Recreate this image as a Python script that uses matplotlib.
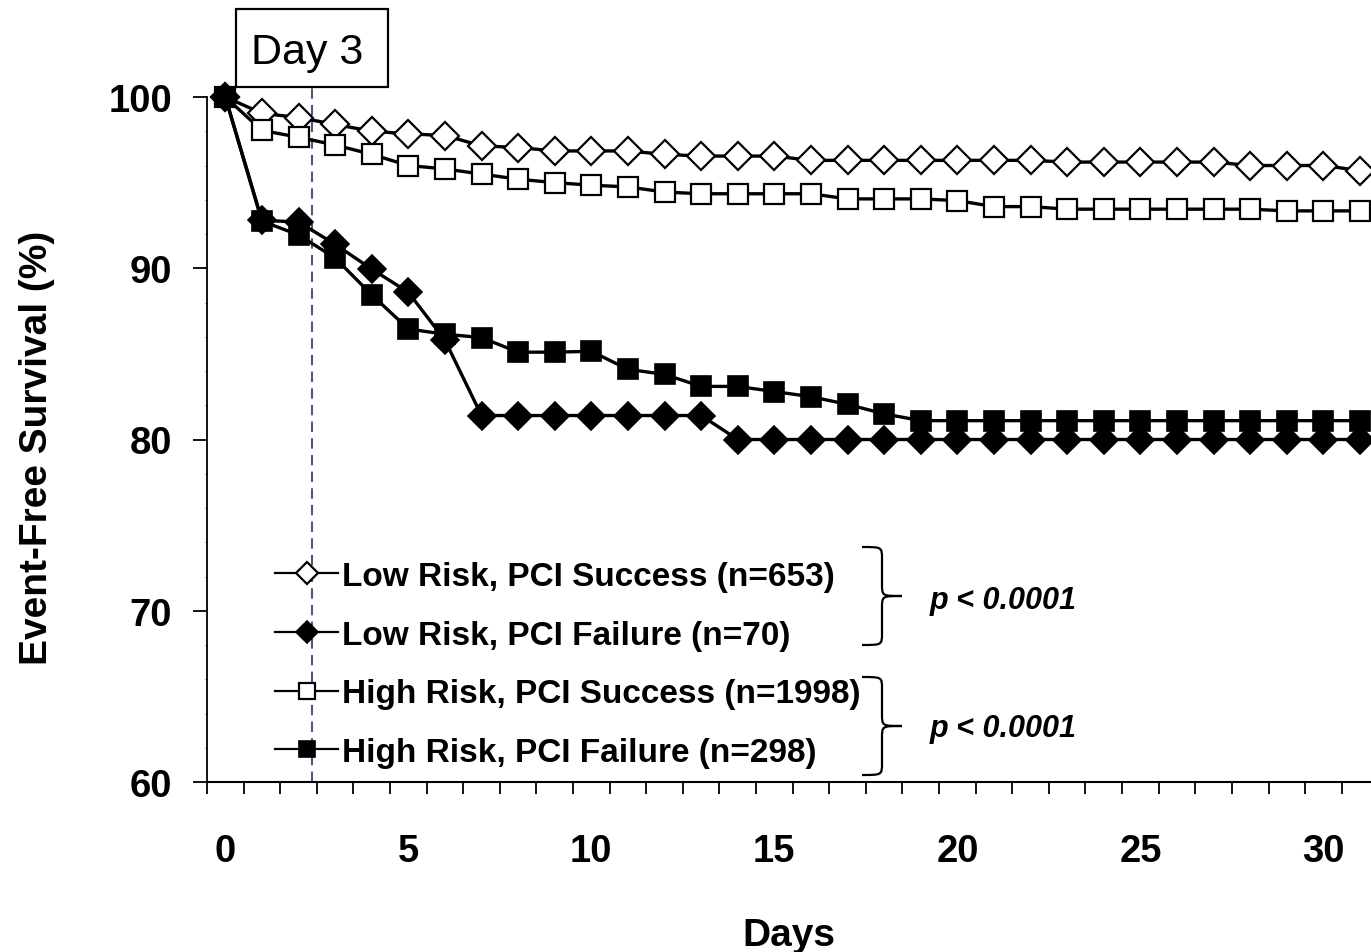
import matplotlib
matplotlib.use("Agg")
import matplotlib.pyplot as plt
from matplotlib.path import Path
from matplotlib.patches import PathPatch, Rectangle
from matplotlib.lines import Line2D
from matplotlib.ticker import FixedLocator, NullFormatter
import matplotlib.transforms as mtransforms
import numpy as np

plt.rcParams["font.family"] = ["Liberation Sans", "DejaVu Sans"]

# ---- data -------------------------------------------------------------
days = list(range(32))

low_success = [100, 99.05, 98.8, 98.4, 98.0, 97.85, 97.75, 97.15, 97.05, 96.85,
               96.85, 96.85, 96.65, 96.55, 96.55, 96.55, 96.3, 96.3, 96.3, 96.3,
               96.3, 96.3, 96.3, 96.2, 96.2, 96.2, 96.2, 96.2, 96.0, 96.0,
               96.0, 95.7]
low_failure = [100, 92.8, 92.7, 91.4, 89.95, 88.6, 85.8, 81.4, 81.4, 81.4,
               81.4, 81.4, 81.4, 81.4, 80.0, 80.0, 80.0, 80.0, 80.0, 80.0,
               80.0, 80.0, 80.0, 80.0, 80.0, 80.0, 80.0, 80.0, 80.0, 80.0,
               80.0, 80.0]
high_success = [100, 98.05, 97.65, 97.2, 96.65, 96.0, 95.8, 95.5, 95.2, 95.0,
                94.85, 94.75, 94.45, 94.35, 94.35, 94.35, 94.35, 94.05, 94.05, 94.05,
                93.95, 93.6, 93.6, 93.45, 93.45, 93.45, 93.45, 93.45, 93.45, 93.35,
                93.35, 93.35]
high_failure = [100, 92.75, 91.95, 90.6, 88.45, 86.45, 86.15, 85.95, 85.1, 85.1,
                85.15, 84.1, 83.8, 83.1, 83.1, 82.8, 82.5, 82.05, 81.5, 81.1,
                81.1, 81.1, 81.1, 81.1, 81.1, 81.1, 81.1, 81.1, 81.1, 81.1,
                81.1, 81.1]

series_labels = ["Low Risk, PCI Success (n=653)",
                 "Low Risk, PCI Failure (n=70)",
                 "High Risk, PCI Success (n=1998)",
                 "High Risk, PCI Failure (n=298)"]
p_labels = ["p < 0.0001", "p < 0.0001"]
x_tick_values = [0, 5, 10, 15, 20, 25, 30]
y_tick_values = [60, 70, 80, 90, 100]
day_marker = 2.36
day_marker_label = "Day 3"

# ---- figure -----------------------------------------------------------
W, H = 1371, 953
fig = plt.figure(figsize=(W / 100, H / 100), dpi=100)
ax = fig.add_axes([207 / W, (H - 783) / H, (W - 207) / W, 773 / H])
ax.set_xlim(-0.5, 31.3)
ax.set_ylim(60, 60 + 773 / 17.125)

styles = [
    dict(marker="D", ms=14, mfc="white", mec="black", mew=1.6),
    dict(marker="D", ms=14, mfc="black", mec="black", mew=1.2),
    dict(marker="s", ms=14.5, mfc="white", mec="black", mew=1.6),
    dict(marker="s", ms=14.5, mfc="black", mec="black", mew=1.2),
]
handles = []
for vals, st in zip([low_success, low_failure, high_success, high_failure],
                    styles):
    ax.plot(days, vals, color="black", lw=2.4, zorder=3, clip_on=True, **st)
    handles.append(Line2D([], [], color="black", lw=1.6,
                          **{**st, "ms": st["ms"] * 0.8}))

# vertical marker line for day 3
ax.axvline(day_marker, ymin=0, ymax=(783 - 88) / 773, color="#4a5a78",
           lw=1.5, dashes=(5, 3), zorder=1)

# spines
for s in ("top", "right"):
    ax.spines[s].set_visible(False)
ax.spines["left"].set_bounds(60, 100)
ax.spines["left"].set_linewidth(1.3)
ax.spines["bottom"].set_linewidth(1.5)

# ticks
ax.xaxis.set_major_locator(FixedLocator(x_tick_values))
ax.xaxis.set_minor_locator(FixedLocator(np.arange(-0.5, 31, 1.0)))
ax.xaxis.set_minor_formatter(NullFormatter())
ax.tick_params(axis="x", which="major", length=0, pad=37,
               labelsize=27.5)
ax.tick_params(axis="x", which="minor", length=8.5, width=1.3, direction="out")
ax.yaxis.set_major_locator(FixedLocator(y_tick_values))
ax.yaxis.set_minor_locator(FixedLocator(np.arange(62, 100, 2)))
ax.tick_params(axis="y", which="major", length=10, width=1.3, pad=15,
               labelsize=27.5)
ax.tick_params(axis="y", which="minor", length=1.5, width=0.8, color="#777777")
for lbl in ax.get_xticklabels() + ax.get_yticklabels():
    lbl.set_fontweight("bold")

ax.set_xlabel("Days", fontsize=28, fontweight="bold", labelpad=34)
fig.text(37 / W, 1 - 448 / H, "Event-Free Survival (%)", rotation=90,
         ha="center", va="center", fontsize=28, fontweight="bold")

# legend
leg = ax.legend(handles, series_labels, loc="upper left",
                bbox_to_anchor=(275 / W, 1 - 562 / H),
                bbox_transform=fig.transFigure, frameon=False,
                borderpad=0, borderaxespad=0, handlelength=1.9,
                handletextpad=0.12, labelspacing=0.83, numpoints=1,
                prop=dict(size=24, weight="bold"))

# braces and p-values, drawn in pixel space
px = mtransforms.Affine2D().scale(1 / W, 1 / H) + fig.transFigure


def brace(x0, ytop, ybot, w):
    ytop, ybot = H - ytop, H - ybot
    ym = (ytop + ybot) / 2
    xm = x0 + w * 0.5
    r = 12
    codes = [Path.MOVETO, Path.CURVE4, Path.CURVE4, Path.CURVE4,
             Path.LINETO,
             Path.CURVE4, Path.CURVE4, Path.CURVE4,
             Path.CURVE4, Path.CURVE4, Path.CURVE4,
             Path.LINETO,
             Path.CURVE4, Path.CURVE4, Path.CURVE4]
    verts = [(x0, ytop), (xm, ytop), (xm, ytop), (xm, ytop - r),
             (xm, ym + r),
             (xm, ym), (xm, ym), (x0 + w, ym),
             (xm, ym), (xm, ym), (xm, ym - r),
             (xm, ybot + r),
             (xm, ybot), (xm, ybot), (x0, ybot)]
    fig.patches.append(PathPatch(Path(verts, codes), transform=px,
                                 fill=False, lw=1.6, color="black"))


brace(862, 548, 646, 40)
brace(862, 678, 776, 40)
for yc, txt in zip([601, 729], p_labels):
    fig.text(930 / W, 1 - yc / H, txt, ha="left", va="center", fontsize=22,
             fontweight="bold", fontstyle="italic")

# day 3 label box
fig.patches.append(Rectangle((236 / W, 1 - 88 / H), 152 / W, 78 / H,
                             transform=fig.transFigure, facecolor="white",
                             edgecolor="black", lw=1.6))
fig.text(307 / W, 1 - 53 / H, day_marker_label, ha="center", va="center",
         fontsize=31)

fig.savefig("out.png", dpi=100)
